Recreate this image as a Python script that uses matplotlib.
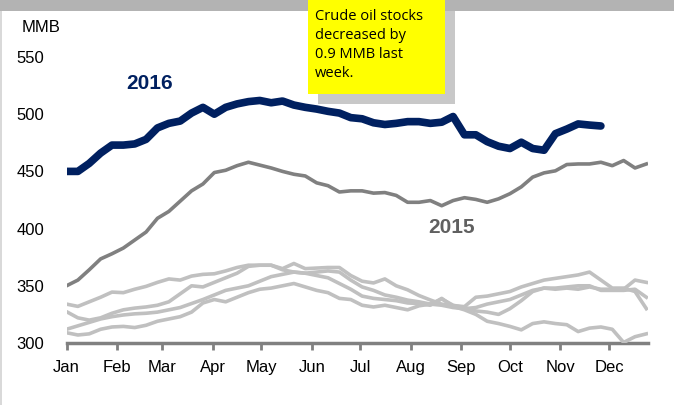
import numpy as np
import matplotlib
matplotlib.use("Agg")
import matplotlib.pyplot as plt
from matplotlib.patches import Rectangle

plt.rcParams['font.family'] = ['Liberation Sans Narrow', 'Liberation Sans', 'DejaVu Sans']

# weekly crude oil stocks (MMB)
y2016 = [450, 450, 457, 466, 473, 473, 474, 478, 488, 492, 494, 501, 506, 500, 506, 509,
         511, 512, 510, 511.5, 508, 506, 504.5, 502.5, 501, 497, 496, 492.5, 491, 492,
         493.5, 493.5, 492, 493, 498, 482, 482, 476, 472, 470, 475.5, 470, 468.5, 483,
         487, 491.5, 490.5, 489.7]
y2015 = [350, 355, 364, 373.5, 378, 383, 390, 397, 409, 415, 424, 433, 439, 449, 451, 455,
         458, 455.5, 453, 450, 447.5, 446, 440, 437.5, 432, 433, 433, 431, 431.5, 429,
         423, 423, 424.5, 420, 424.5, 427, 425.5, 423, 426, 430.5, 436.5, 445, 448.7,
         450.5, 456, 456.5, 456.5, 458, 455, 459.5, 453, 456.5]
# earlier years (light grey)
y_a = [334, 332, 336, 340, 344.5, 344, 347, 349.5, 353, 356, 355, 358.5, 360, 360.5, 363,
       366, 368, 368, 368, 365, 369.5, 365, 365.5, 366, 366, 359, 354, 352.5, 356, 350,
       346.5, 341.5, 337.6, 334, 332.6, 331.8, 340, 341, 343, 345, 349, 352, 355, 356.5,
       358, 359.5, 362, 355, 348, 348, 345, 330]
y_b = [327.4, 322, 320, 322, 326, 329, 330.5, 331.5, 333, 336, 343, 350, 349, 353, 357,
       361, 367, 368, 368, 364, 362, 361, 362, 363, 362, 355, 349, 346, 342, 340, 337.5,
       336, 334, 333, 331, 330, 331, 334, 336, 338, 342, 346, 348, 347, 348, 347, 349,
       347, 347, 347, 355, 353]
y_c = [312, 315, 318, 321, 323, 324.5, 325.5, 326, 327, 329, 331, 334.5, 338, 342, 346,
       348, 350, 354, 358, 360, 362, 361, 359, 357, 352, 347, 341, 339, 338, 337, 335,
       334.5, 333, 339, 332, 329, 325, 319, 317, 314.5, 311.5, 317, 318.5, 317, 316, 310,
       313, 314, 312, 300.5, 305.5, 308]
y_d = [309, 307, 308, 312, 314, 314.5, 313.5, 315.5, 319, 321, 323, 327, 335, 338, 336,
       340, 344, 347, 348, 350, 352, 349, 346, 344, 339, 338, 333, 331.5, 333, 331, 329,
       332.5, 334, 338.5, 333, 331, 328, 327, 325, 330, 337, 345, 348, 348, 349, 350, 350,
       346, 346, 346, 347, 340]

month_days = [0, 31, 59, 90, 120, 151, 181, 212, 243, 273, 304, 334]
months = ['Jan', 'Feb', 'Mar', 'Apr', 'May', 'Jun', 'Jul', 'Aug', 'Sep', 'Oct', 'Nov', 'Dec']
yticks = [300, 350, 400, 450, 500, 550]


def days(vals):
    return np.arange(len(vals)) * 7


fig = plt.figure(figsize=(6.74, 4.05), dpi=100)
ax = fig.add_axes([66.5 / 674, 62 / 405, (648 - 66.5) / 674, 286 / 405])

for s in [y_a, y_b, y_c, y_d]:
    ax.plot(days(s), s, color='#c0c0c0', lw=2.6, solid_joinstyle='round')
ax.plot(days(y2015), y2015, color='#808080', lw=2.6)
ax.plot(days(y2016), y2016, color='#002060', lw=5.5, solid_capstyle='round')

ax.set_xlim(0, 358)
ax.set_ylim(300, 550)
ax.set_xticks(month_days)
ax.set_xticklabels(months, fontsize=12)
ax.set_yticks(yticks)
ax.set_yticklabels([str(v) for v in yticks], fontsize=12)
for sp in ['top', 'right', 'left']:
    ax.spines[sp].set_visible(False)
ax.spines['bottom'].set_color('#808080')
ax.spines['bottom'].set_linewidth(2.5)
ax.spines['bottom'].set_zorder(0)
ax.tick_params(axis='x', length=5, width=2, color='#808080', pad=7)
ax.tick_params(axis='y', length=0, pad=16)

ax.text(51, 527, '2016', color='#002060', fontsize=15, fontweight='bold', ha='center', va='center')
ax.text(237, 401, '2015', color='#606060', fontsize=15, fontweight='bold', ha='center', va='center')

fig.text(22 / 674, 1 - 28 / 405, 'MMB', fontsize=12, ha='left', va='center')

# frame bits
fig.add_artist(Rectangle((0, 0), 2 / 674, 1, transform=fig.transFigure, color='#d9d9d9', lw=0))
fig.add_artist(Rectangle((318 / 674, 1 - 104 / 405), 137 / 674, 94 / 405,
                         transform=fig.transFigure, color='#c8c8c8', lw=0))
fig.add_artist(Rectangle((0, 1 - 11 / 405), 1, 11 / 405, transform=fig.transFigure,
                         color='#b3b3b3', lw=0))
fig.add_artist(Rectangle((308 / 674, 1 - 94 / 405), 137 / 674, 94 / 405,
                         transform=fig.transFigure, color='#ffff00', lw=0))
fig.text(315 / 674, 1 - 9 / 405, 'Crude oil stocks\ndecreased by\n0.9 MMB last\nweek.',
         fontsize=10.5, family=['Open Sans', 'DejaVu Sans'], ha='left', va='top', linespacing=1.35)

fig.savefig('out.png', dpi=100)
